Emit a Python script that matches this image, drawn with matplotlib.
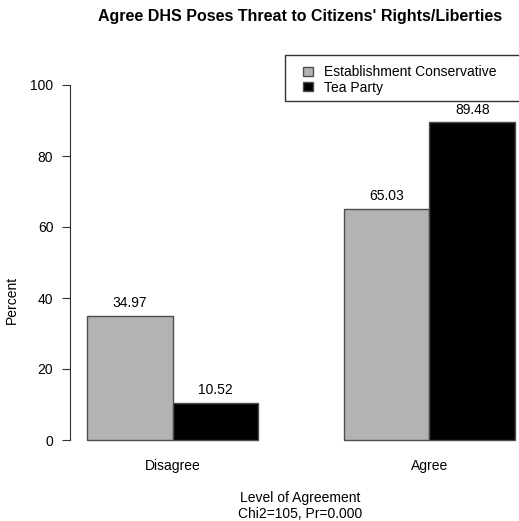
import numpy as np
import matplotlib.pyplot as plt
from matplotlib.patches import Patch, Rectangle

plt.rcParams['font.family'] = ['Liberation Sans', 'DejaVu Sans']

categories = ['Disagree', 'Agree']
groups = ['Establishment Conservative', 'Tea Party']
establishment = [34.97, 65.03]
tea_party = [10.52, 89.48]
colors = ['#b3b3b3', '#000000']

W, H = 519, 521
fs = 10
fig = plt.figure(figsize=(W / 100, H / 100), dpi=100)

# axes in pixel coordinates
left, right, top, bottom = 70, 517, 85, 440
ax = fig.add_axes([left / W, 1 - bottom / H, (right - left) / W, (bottom - top) / H])
ax.set_xlim(0.8014, 6.023)
ax.set_ylim(0, 100)

centers = np.array([2.0, 5.0])
for i, (vals, col) in enumerate(zip([establishment, tea_party], colors)):
    xs = centers - 0.5 + i
    ax.bar(xs, vals, width=1.0, color=col, edgecolor='#4d4d4d', linewidth=1.0, clip_on=False)
    for x, v in zip(xs, vals):
        ax.text(x, v + 1.6, f'{v:.2f}', ha='center', va='bottom', fontsize=fs, clip_on=False)

for s in ['top', 'right', 'bottom']:
    ax.spines[s].set_visible(False)
ax.spines['left'].set_bounds(0, 100)
ax.spines['left'].set_color('#333333')
ax.set_yticks([0, 20, 40, 60, 80, 100])
ax.tick_params(axis='y', length=6, labelsize=fs, color='#333333', pad=6)
ax.set_xticks(centers)
ax.set_xticklabels(categories, fontsize=fs)
ax.tick_params(axis='x', length=0, pad=14)

fig.text(300 / W, 1 - 16 / H, "Agree DHS Poses Threat to Citizens' Rights/Liberties",
         ha='center', va='center', fontsize=11.5, fontweight='bold')
fig.text(12 / W, 1 - 300 / H, 'Percent', rotation=90, ha='center', va='center', fontsize=fs)
fig.text(300 / W, 1 - 498 / H, 'Level of Agreement', ha='center', va='center', fontsize=fs)
fig.text(300 / W, 1 - 514 / H, 'Chi2=105, Pr=0.000', ha='center', va='center', fontsize=fs)

# legend box runs off the right edge like the original
fig.patches.append(Rectangle((285 / W, 1 - 101 / H), 240 / W, 46 / H, transform=fig.transFigure,
                             facecolor='white', edgecolor='#333333', linewidth=1.0, zorder=3))
handles = [Patch(facecolor=c, edgecolor='#4d4d4d') for c in colors]
leg = fig.legend(handles, groups, loc='upper left', bbox_to_anchor=(303 / W, 1 - 65 / H),
                 frameon=False, fontsize=fs, handlelength=0.75, handleheight=0.6,
                 borderpad=0, labelspacing=0.12, handletextpad=0.75, borderaxespad=0)
leg.set_zorder(4)

fig.savefig('out.png', dpi=100)
